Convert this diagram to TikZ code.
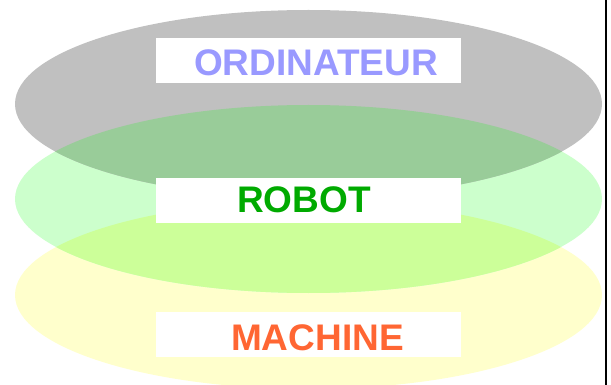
\documentclass[tikz,border=0pt]{standalone}
\usepackage{fontspec}
\setmainfont{Liberation Sans}
\definecolor{grayfill}{HTML}{C0C0C0}
\definecolor{greenfill}{HTML}{CCFFCC}
\definecolor{yellowfill}{HTML}{FFFFCC}
\definecolor{graygreen}{HTML}{99CC99}
\definecolor{greenyellow}{HTML}{CCFF99}
\definecolor{ordcol}{HTML}{9999FF}
\definecolor{robcol}{HTML}{00AA00}
\definecolor{maccol}{HTML}{FF6633}
\begin{document}
\begin{tikzpicture}[x=1pt,y=-1pt,
  whitebox/.style={fill=white,draw=none,minimum width=305.5pt,minimum height=44.5pt,inner sep=0pt,anchor=north west},
  layertext/.style={font=\bfseries\fontsize{37}{40}\selectfont,anchor=base,inner sep=0pt}]
\useasboundingbox (0,0) rectangle (611,385);
\def\ellA{(308.5,104) ellipse [x radius=293.5, y radius=94]}
\def\ellB{(308.5,199) ellipse [x radius=293.5, y radius=94]}
\def\ellC{(308.5,295) ellipse [x radius=293.5, y radius=94]}
\begin{scope}
\clip (0,0) rectangle (611,385);
\fill[yellowfill] \ellC;
\fill[greenfill] \ellB;
\fill[grayfill] \ellA;
\begin{scope}
\clip \ellA;
\fill[graygreen] \ellB;
\end{scope}
\begin{scope}
\clip \ellC;
\fill[greenyellow] \ellB;
\end{scope}
\end{scope}
\node[whitebox] (boxA) at (155.5,38) {};
\node[whitebox] (boxB) at (155.5,178) {};
\node[whitebox] (boxC) at (155.5,312) {};
\node[layertext,text=ordcol] (ord) at (316,76) {ORDINATEUR};
\node[layertext,text=robcol] (rob) at (304,212) {ROBOT};
\node[layertext,text=maccol] (mac) at (317.5,350) {MACHINE};
\draw[line width=1.6pt] (606,0) -- (606,385);
\end{tikzpicture}
\end{document}
